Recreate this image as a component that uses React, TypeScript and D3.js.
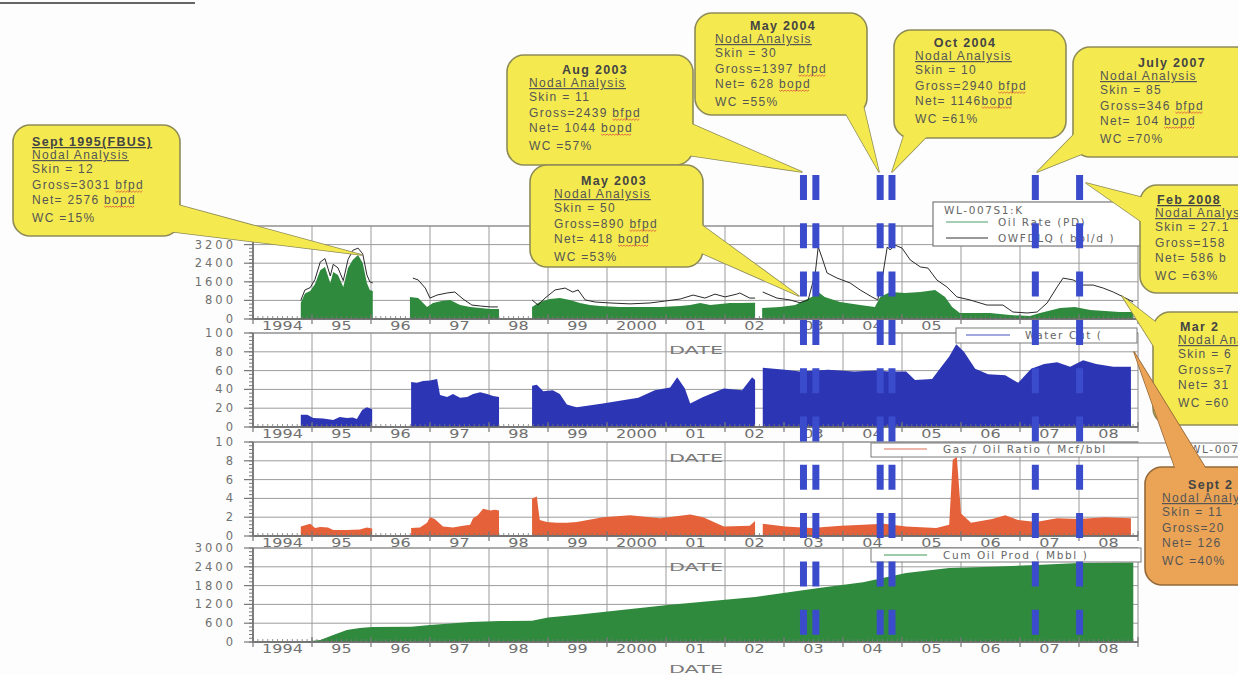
import React, { useLayoutEffect, useRef, useState } from 'react';
import * as d3 from 'd3';

type P = [number, number];

const yearLabels = ['1994','95','96','97','98','99','2000','01','02','03','04','05','06','07','08'];
const firstYear = 1994;
const lastYear = 2009;

const oilRate: P[][] = [
  [[1994.81,700],[1994.88,1100],[1994.97,1200],[1995.05,1500],[1995.14,2100],[1995.22,2240],[1995.31,1550],[1995.36,2020],[1995.44,1890],[1995.53,1380],[1995.61,2190],[1995.69,2540],[1995.78,2750],[1995.86,2410],[1995.93,1550],[1995.98,1250],[1996.03,1200]],
  [[1996.66,950],[1996.80,900],[1996.95,520],[1997.05,690],[1997.20,770],[1997.34,820],[1997.51,600],[1997.68,520],[1997.85,470],[1998.02,430],[1998.17,430]],
  [[1998.73,520],[1998.86,730],[1999.03,860],[1999.20,900],[1999.37,820],[1999.54,690],[1999.71,600],[1999.88,560],[2000.22,520],[2000.56,520],[2000.90,520],[2001.24,560],[2001.41,600],[2001.58,690],[2001.75,600],[2001.92,650],[2002.08,690],[2002.25,690],[2002.51,700]],
  [[2002.63,470],[2002.93,520],[2003.19,600],[2003.36,820],[2003.47,950],[2003.58,1160],[2003.69,950],[2003.95,730],[2004.29,600],[2004.54,520],[2004.63,950],[2004.80,1160],[2005.05,1120],[2005.31,1160],[2005.56,1250],[2005.73,950],[2005.85,520],[2005.98,260],[2006.49,260],[2006.83,170],[2007.17,130],[2007.34,260],[2007.68,470],[2007.93,520],[2008.19,390],[2008.44,340],[2008.69,300],[2008.92,300]],
];

const liquidRate: P[][] = [
  [[1994.81,800],[1994.88,1250],[1994.97,1350],[1995.05,1700],[1995.14,2450],[1995.22,2600],[1995.31,1850],[1995.36,2350],[1995.44,2200],[1995.53,1650],[1995.61,2550],[1995.69,2950],[1995.78,3050],[1995.86,2800],[1995.93,1900],[1995.98,1600],[1996.03,1550]],
  [[1996.71,1760],[1996.80,1680],[1996.92,1330],[1997.00,900],[1997.12,1030],[1997.29,1120],[1997.42,1160],[1997.56,860],[1997.71,600],[1997.85,560],[1998.02,520],[1998.15,520]],
  [[1998.73,820],[1998.83,600],[1998.95,900],[1999.12,1250],[1999.29,1330],[1999.42,1160],[1999.51,1250],[1999.63,820],[1999.80,730],[2000.05,690],[2000.39,650],[2000.73,690],[2000.98,770],[2001.24,860],[2001.46,1030],[2001.66,900],[2001.83,1070],[2002.00,950],[2002.20,1070],[2002.25,1120],[2002.42,900],[2002.51,900]],
  [[2002.64,1160],[2002.88,900],[2003.10,820],[2003.27,700],[2003.41,820],[2003.53,1980],[2003.58,3100],[2003.64,2670],[2003.73,1980],[2003.90,1760],[2004.12,1550],[2004.29,1250],[2004.49,950],[2004.59,820],[2004.68,1980],[2004.75,3100],[2004.80,2970],[2004.88,3180],[2005.00,3050],[2005.14,2540],[2005.31,2240],[2005.44,2190],[2005.59,1680],[2005.76,1380],[2005.93,950],[2006.15,820],[2006.44,600],[2006.71,600],[2006.88,300],[2007.12,260],[2007.29,300],[2007.46,690],[2007.63,1380],[2007.73,1760],[2007.90,1680],[2008.07,1460],[2008.24,1460],[2008.41,1330],[2008.58,1160],[2008.75,950],[2008.92,730]],
];

const waterCut: P[][] = [
  [[1994.81,13],[1994.92,13],[1995.02,9.6],[1995.19,9],[1995.36,7.4],[1995.47,10.6],[1995.59,9.6],[1995.69,10],[1995.76,8.5],[1995.85,18],[1995.93,21],[1996.02,19]],
  [[1996.68,48],[1996.78,47],[1996.88,49],[1997.00,49.5],[1997.12,51],[1997.17,34],[1997.29,32],[1997.39,35],[1997.51,31],[1997.63,32],[1997.73,35],[1997.85,37],[1997.97,35],[1998.07,33],[1998.17,32]],
  [[1998.73,44],[1998.81,45],[1998.92,38],[1999.08,39],[1999.20,35],[1999.32,24],[1999.42,22],[1999.49,21],[1999.93,25],[2000.53,31],[2000.81,39],[2001.07,42],[2001.19,53],[2001.32,41],[2001.41,25],[2001.63,32],[2001.98,41],[2002.29,39],[2002.46,53],[2002.51,50]],
  [[2002.64,63],[2003.02,61],[2003.27,59],[2003.75,61],[2004.19,59],[2004.56,60],[2004.78,59],[2005.07,59],[2005.22,50],[2005.51,51],[2005.80,75],[2005.92,88],[2006.05,80],[2006.24,62],[2006.46,56],[2006.75,55],[2006.97,47],[2007.19,62],[2007.41,67],[2007.63,69],[2007.85,64],[2008.07,71],[2008.29,67],[2008.58,64],[2008.88,64]],
];

const gasOilRatio: P[][] = [
  [[1994.81,1.0],[1994.97,1.3],[1995.05,0.85],[1995.14,0.95],[1995.27,0.9],[1995.36,0.64],[1995.59,0.64],[1995.81,0.7],[1995.93,0.9],[1996.02,0.8]],
  [[1996.68,0.85],[1996.83,0.9],[1996.95,1.4],[1997.00,2.0],[1997.08,1.8],[1997.22,1.0],[1997.39,0.9],[1997.56,1.1],[1997.68,1.2],[1997.73,1.9],[1997.81,2.2],[1997.90,2.9],[1998.02,2.7],[1998.10,2.8],[1998.17,2.7]],
  [[1998.73,4.0],[1998.81,4.2],[1998.86,1.7],[1998.98,1.5],[1999.15,1.4],[1999.32,1.4],[1999.49,1.5],[1999.93,2.0],[2000.39,2.2],[2000.90,1.9],[2001.41,2.3],[2001.63,2.0],[2001.98,1.0],[2002.42,1.1],[2002.51,1.6]],
  [[2002.64,1.3],[2003.02,1.0],[2003.46,0.85],[2003.97,1.1],[2004.34,1.2],[2004.69,1.3],[2005.07,1.0],[2005.58,0.85],[2005.80,1.2],[2005.86,8.1],[2005.93,8.4],[2006.00,2.4],[2006.17,1.4],[2006.53,1.8],[2006.75,2.2],[2006.97,1.7],[2007.27,1.5],[2007.63,1.9],[2008.00,1.8],[2008.44,2.0],[2008.88,1.9]],
];

const cumOil: P[][] = [
  [[1994.81,0],[1995.14,60],[1995.36,220],[1995.59,380],[1995.81,450],[1996.02,480],[1996.68,490],[1997.00,540],[1997.68,640],[1998.19,670],[1998.73,680],[1999.00,780],[1999.54,880],[2001.03,1180],[2002.51,1440],[2003.59,1720],[2004.34,1910],[2005.07,2200],[2005.80,2360],[2006.53,2400],[2007.27,2460],[2008.00,2520],[2008.92,2540]],
];

const markerDates = [2003.33, 2003.54, 2004.63, 2004.83, 2007.26, 2008.01];

const calloutTexts: string[][] = [
  ['Sept 1995(FBUS)','Nodal Analysis','Skin = 12','Gross=3031 bfpd','Net= 2576 bopd','WC =15%'],
  ['Aug 2003','Nodal Analysis','Skin = 11','Gross=2439 bfpd','Net= 1044 bopd','WC =57%'],
  ['May 2003','Nodal Analysis','Skin = 50','Gross=890 bfpd','Net= 418 bopd','WC =53%'],
  ['May 2004','Nodal Analysis','Skin = 30','Gross=1397 bfpd','Net= 628 bopd','WC =55%'],
  ['Oct 2004','Nodal Analysis','Skin = 10','Gross=2940 bfpd','Net= 1146bopd','WC =61%'],
  ['July 2007','Nodal Analysis','Skin = 85','Gross=346 bfpd','Net= 104 bopd','WC =70%'],
  ['Feb 2008','Nodal Analysis','Skin = 27.1','Gross=158','Net= 586 b','WC =63%'],
  ['Mar 2','Nodal Analysis','Skin = 6','Gross=7','Net= 31','WC =60'],
  ['Sept 2','Nodal Analysis','Skin = 11','Gross=20','Net= 126','WC =40%'],
];

const legendLabels = ['WL-007S1:K', 'Oil Rate (PD)', 'OWFDLQ ( bbl/d )', 'Water Cut (', 'Gas / Oil Ratio ( Mcf/bbl', 'Cum Oil Prod ( Mbbl )'];
const axisTitle = 'DATE';
const unitWords = ['bfpd', 'bopd'];

type Sq = { x0: number; x1: number; y: number };

export default function App() {
  const svgRef = useRef<SVGSVGElement>(null);
  const [squiggles, setSquiggles] = useState<Sq[]>([]);

  useLayoutEffect(() => {
    const svg = svgRef.current;
    if (!svg) return;
    const out: Sq[] = [];
    svg.querySelectorAll('tspan.unit').forEach((el) => {
      const b = (el as SVGGraphicsElement).getBBox();
      out.push({ x0: b.x, x1: b.x + b.width - 1, y: b.y + b.height });
    });
    setSquiggles(out);
  }, []);

  const X0 = 253, X1 = 1138;
  const x = d3.scaleLinear().domain([firstYear, lastYear]).range([X0, X1]);

  const panels = [
    { top: 226, bottom: 319, max: 4000, step: 800, labelMax: 3200, data: oilRate, fill: '#2f8a3d', hideFrom: 12 },
    { top: 333, bottom: 427, max: 100, step: 20, labelMax: 100, data: waterCut, fill: '#2c35b3', hideFrom: 99 },
    { top: 442, bottom: 536, max: 10, step: 2, labelMax: 10, data: gasOilRatio, fill: '#e4613a', hideFrom: 99 },
    { top: 548, bottom: 642, max: 3000, step: 600, labelMax: 3000, data: cumOil, fill: '#2f8a3d', hideFrom: 99 },
  ];

  const gridCol = '#9c9c9c';
  const txtCol = '#707070';
  const axFont = '"DejaVu Sans", sans-serif';
  const years = d3.range(firstYear, lastYear + 1);
  const months = d3.range(firstYear * 12, lastYear * 12).map((m) => m / 12);

  const panelEls = panels.map((p, i) => {
    const y = d3.scaleLinear().domain([0, p.max]).range([p.bottom, p.top]);
    const area = d3.area<P>().x((d) => x(d[0])).y0(y(0)).y1((d) => y(d[1]));
    const ticks = d3.range(0, p.max + 0.0001, p.step);
    const minor = d3.range(0, p.max + 0.0001, p.step / 5);
    const line = d3.line<P>().x((d) => x(d[0])).y((d) => y(d[1]));
    return (
      <g key={i}>
        <rect x={X0} y={p.top} width={X1 - X0} height={p.bottom - p.top} fill="#fff" stroke="none" />
        {ticks.map((t) => (
          <line key={'h' + t} x1={X0} x2={X1} y1={y(t)} y2={y(t)} stroke={gridCol} strokeWidth={1} />
        ))}
        {years.slice(1, -1).map((yr) => (
          <line key={'v' + yr} x1={x(yr)} x2={x(yr)} y1={p.top} y2={p.bottom} stroke={gridCol} strokeWidth={1} />
        ))}
        {p.data.map((seg, j) => (
          <path key={'a' + j} d={area(seg) || ''} fill={p.fill} />
        ))}
        {i === 0 && liquidRate.map((seg, j) => (
          <path key={'l' + j} d={line(seg) || ''} fill="none" stroke="#2a2a2a" strokeWidth={1} />
        ))}
        <rect x={X0} y={p.top} width={X1 - X0} height={p.bottom - p.top} fill="none" stroke="#8a8a8a" strokeWidth={1} />
        <line x1={X0} x2={X0} y1={p.top} y2={p.bottom} stroke="#666" strokeWidth={1.5} />
        <line x1={X0} x2={X1} y1={p.bottom} y2={p.bottom} stroke="#666" strokeWidth={1.5} />
        {minor.map((t) => (
          <line key={'mt' + t} x1={X0 - 4} x2={X0} y1={y(t)} y2={y(t)} stroke="#777" strokeWidth={1} />
        ))}
        {ticks.map((t) => (
          <line key={'t' + t} x1={X0 - 9} x2={X0} y1={y(t)} y2={y(t)} stroke="#777" strokeWidth={1.2} />
        ))}
        {ticks.filter((t) => t <= p.labelMax).map((t) => (
          <text key={'yl' + t} x={X0 - 17} y={y(t) + 4} textAnchor="end" fontFamily={axFont} fontSize={11.5}
            letterSpacing={3} fill={txtCol}>{String(t)}</text>
        ))}
        {months.map((m) => (
          <line key={'m' + m} x1={x(m)} x2={x(m)} y1={p.bottom - 3} y2={p.bottom} stroke="#777" strokeWidth={0.8} />
        ))}
        {years.map((yr) => (
          <line key={'yt' + yr} x1={x(yr)} x2={x(yr)} y1={p.bottom - 5} y2={p.bottom + 5} stroke="#777" strokeWidth={1.2} />
        ))}
        {yearLabels.map((lab, k) => k >= p.hideFrom ? null : (
          <text key={'xl' + k} x={x(firstYear + k + 0.5)} y={p.bottom + 11} textAnchor="middle" fontFamily={axFont}
            fontSize={11.5} fill={txtCol} textLength={lab.length * 10.2} lengthAdjust="spacingAndGlyphs">{lab}</text>
        ))}
      </g>
    );
  });

  const dateLabels = panels.map((p, i) => (
    <text key={'dt' + i} x={696} y={Math.min(p.bottom + 35, 673)} textAnchor="middle" fontFamily={axFont} fontSize={10}
      fill="#7a7a7a" textLength={54} lengthAdjust="spacingAndGlyphs">{axisTitle}</text>
  ));

  const legFont = { fontFamily: axFont, fontSize: 10.5, fill: '#666', letterSpacing: 1.6 } as const;

  const legends = (
    <g>
      <rect x={933} y={202} width={240} height={44} fill="#fff" stroke="#7a7a7a" strokeWidth={1.2} />
      <text x={944} y={214} {...legFont}>{legendLabels[0]}</text>
      <line x1={946} x2={988} y1={222} y2={222} stroke="#4c9d6a" strokeWidth={1.2} />
      <text x={998} y={226} {...legFont}>{legendLabels[1]}</text>
      <line x1={946} x2={988} y1={238} y2={238} stroke="#333" strokeWidth={1.2} />
      <text x={998} y={242} {...legFont}>{legendLabels[2]}</text>

      <rect x={956} y={328} width={181} height={15} fill="#fff" stroke="#7a7a7a" strokeWidth={1} />
      <line x1={966} x2={1010} y1={335} y2={335} stroke="#4550c0" strokeWidth={1.2} />
      <text x={1025} y={339} {...legFont}>{legendLabels[3]}</text>

      <rect x={871} y={443} width={400} height={14} fill="#fff" stroke="#7a7a7a" strokeWidth={1} />
      <line x1={884} x2={927} y1={449} y2={449} stroke="#e0705a" strokeWidth={1.2} />
      <text x={943} y={453} {...legFont}>{legendLabels[4]}</text>
      <text x={1190} y={453} {...legFont}>{legendLabels[0]}</text>

      <rect x={871} y={548} width={270} height={14} fill="#fff" stroke="#7a7a7a" strokeWidth={1} />
      <line x1={884} x2={927} y1={555} y2={555} stroke="#3f9a55" strokeWidth={1.2} />
      <text x={943} y={559} {...legFont}>{legendLabels[5]}</text>
    </g>
  );

  const bars = (
    <g>
      {markerDates.map((t, i) => (
        <line key={i} x1={x(t)} x2={x(t)} y1={175} y2={636} stroke="#3a4ccc" strokeWidth={7}
          strokeDasharray="25 23.3" />
      ))}
    </g>
  );

  type Lay = { box: [number, number, number, number]; tc: number; titleX: number; titleAnchor: 'middle' | 'start';
    titleUnderline: boolean; textX: number; ptr: [number, number][]; orange?: boolean };
  const layout: Lay[] = [
    { box: [13, 125, 167, 111], tc: 142, titleX: 32, titleAnchor: 'start', titleUnderline: true, textX: 32, ptr: [[160, 200], [158, 230], [362, 255]] },
    { box: [507, 55, 186, 110], tc: 70, titleX: 595, titleAnchor: 'middle', titleUnderline: false, textX: 529, ptr: [[678, 118], [666, 152], [802, 172]] },
    { box: [530, 165, 173, 102], tc: 181, titleX: 614, titleAnchor: 'middle', titleUnderline: false, textX: 554, ptr: [[688, 215], [690, 248], [799, 296]] },
    { box: [695, 13, 172, 102], tc: 26, titleX: 783, titleAnchor: 'middle', titleUnderline: false, textX: 715, ptr: [[838, 100], [860, 92], [879, 172]] },
    { box: [894, 30, 172, 108], tc: 43, titleX: 965, titleAnchor: 'middle', titleUnderline: false, textX: 915, ptr: [[907, 126], [937, 126], [892, 172]] },
    { box: [1073, 47, 180, 110], tc: 63, titleX: 1172, titleAnchor: 'middle', titleUnderline: false, textX: 1100, ptr: [[1090, 118], [1102, 146], [1037, 172]] },
    { box: [1140, 185, 130, 108], tc: 200, titleX: 1157, titleAnchor: 'start', titleUnderline: true, textX: 1155, ptr: [[1152, 200], [1156, 232], [1086, 183]] },
    { box: [1153, 312, 130, 113], tc: 327, titleX: 1180, titleAnchor: 'start', titleUnderline: false, textX: 1178, ptr: [[1166, 330], [1170, 372], [1122, 296]] },
    { box: [1145, 467, 120, 118], tc: 485, titleX: 1188, titleAnchor: 'start', titleUnderline: false, textX: 1162, ptr: [[1180, 482], [1214, 482], [1134, 352]], orange: true },
  ];
  const offsets = [0, 13, 27, 43, 58, 76];
  const calFont = '"Liberation Sans", Arial, sans-serif';

  const renderBody = (s: string) => {
    const parts = s.split(/(bfpd|bopd)/);
    return parts.map((pt, j) =>
      unitWords.includes(pt) ? (
        <tspan key={j} className="unit">{pt}</tspan>
      ) : (
        <tspan key={j}>{pt}</tspan>
      ),
    );
  };

  const callouts = layout.map((c, i) => {
    const lines = calloutTexts[i];
    const fill = c.orange ? '#eba455' : '#f4ea4f';
    const stroke = c.orange ? '#94683a' : '#8e8b58';
    const pts = c.ptr.map((p) => p.join(',')).join(' ');
    const [bx, by, bw, bh] = c.box;
    return (
      <g key={i}>
        <polygon points={pts} fill={fill} stroke={stroke} strokeWidth={1.5} strokeLinejoin="round" />
        <rect x={bx} y={by} width={bw} height={bh} rx={17} ry={17} fill={fill} stroke={stroke} strokeWidth={1.6} />
        <polygon points={pts} fill={fill} stroke="none" />
        {lines.map((s, k) => {
          const yy = c.tc + 4 + offsets[k];
          if (k === 0) {
            return (
              <text key={k} x={c.titleX} y={yy} textAnchor={c.titleAnchor} fontFamily={calFont} fontSize={12.5}
                fontWeight="bold" fill="#444" letterSpacing={1.3}
                textDecoration={c.titleUnderline ? 'underline' : undefined}>{s}</text>
            );
          }
          return (
            <text key={k} x={c.textX} y={yy} fontFamily={calFont} fontSize={12} fill="#555" letterSpacing={1.3}
              textDecoration={k === 1 ? 'underline' : undefined}>{renderBody(s)}</text>
          );
        })}
      </g>
    );
  });

  const wave = (s: Sq) => {
    const pts: [number, number][] = [];
    let k = 0;
    for (let xx = s.x0; xx <= s.x1; xx += 1.5, k++) pts.push([xx, s.y - 1 + (k % 2 === 0 ? 0 : 1.3)]);
    return d3.line()(pts) || '';
  };

  return (
    <svg ref={svgRef} width={1238} height={675} viewBox="0 0 1238 675" style={{ position: 'absolute', left: 0, top: 0, background: '#fff' }}>
      <rect x={0} y={0} width={1238} height={675} fill="#fdfdfd" />
      <line x1={0} x2={195} y1={3} y2={3} stroke="#666" strokeWidth={2} />
      {panelEls}
      {dateLabels}
      {legends}
      {bars}
      {callouts}
      <g>
        {squiggles.map((s, i) => (
          <path key={i} d={wave(s)} fill="none" stroke="#d9503c" strokeWidth={0.8} />
        ))}
      </g>
    </svg>
  );
}
